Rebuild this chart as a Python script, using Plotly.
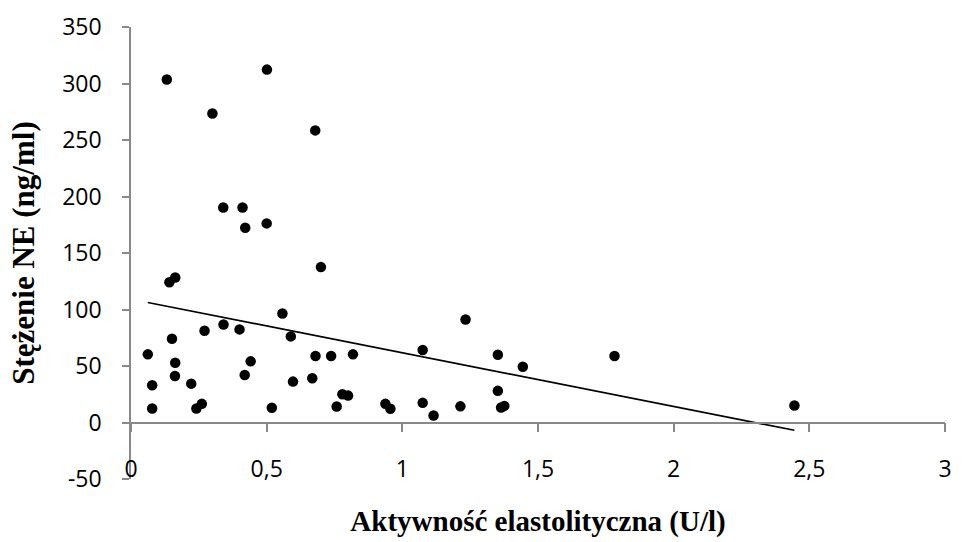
import plotly.graph_objects as go

# Elastolytic activity (U/l) vs NE concentration (ng/ml)
aktywnosc = [0.132, 0.300, 0.501, 0.679, 0.340, 0.411, 0.421, 0.500, 0.700,
             0.062, 0.078, 0.078, 0.1415, 0.163, 0.151, 0.163, 0.162, 0.222,
             0.241, 0.261, 0.271, 0.341, 0.400, 0.419, 0.441, 0.519, 0.558,
             0.589, 0.597, 0.668, 0.680, 0.7375, 0.758, 0.779, 0.800, 0.818,
             0.9375, 0.956, 1.075, 1.075, 1.115, 1.214, 1.233, 1.352, 1.444,
             1.782, 1.352, 1.364, 1.376, 2.445]
stezenie = [303.5, 273.5, 312.3, 258.5, 190.3, 190.3, 172.4, 176.2, 137.5,
            60.3, 33.0, 12.4, 124.1, 128.3, 74.1, 52.9, 41.2, 34.4,
            12.4, 16.5, 81.2, 86.8, 82.4, 42.1, 54.1, 13.0, 96.5,
            76.2, 36.2, 39.2, 58.8, 58.8, 14.1, 25.0, 23.8, 60.3,
            16.5, 12.1, 64.1, 17.4, 6.2, 14.3, 91.2, 60.0, 49.4,
            58.8, 28.0, 13.2, 14.7, 15.0]

# Linear trendline coefficients (y = a*x + b)
trend_slope = -47.5
trend_intercept = 109.2

x_ticks = [0, 0.5, 1, 1.5, 2, 2.5, 3]
x_tick_labels = ["0", "0,5", "1", "1,5", "2", "2,5", "3"]
y_ticks = [-50, 0, 50, 100, 150, 200, 250, 300, 350]
y_tick_labels = ["-50", "0", "50", "100", "150", "200", "250", "300", "350"]
x_range = [0, 3]
y_range = [-50, 350]

AXIS_GREY = "#898989"
TICK_FONT = dict(family="Open Sans", size=23, color="#000000")
X_TITLE_FONT = dict(family="Liberation Serif", size=29, color="#000000")
Y_TITLE_FONT = dict(family="Liberation Serif", size=31, color="#000000")

trend_x = [min(aktywnosc), max(aktywnosc)]
trend_y = [trend_slope * v + trend_intercept for v in trend_x]

fig = go.Figure()
fig.add_trace(go.Scatter(
    x=aktywnosc, y=stezenie, mode="markers",
    marker=dict(color="#000000", size=10.5, line=dict(width=0)),
    showlegend=False, hoverinfo="x+y",
))
fig.add_trace(go.Scatter(
    x=trend_x, y=trend_y, mode="lines", xaxis="x2",
    line=dict(color="#000000", width=1.6),
    showlegend=False, hoverinfo="skip",
))

# x axis crossing the value axis at y = 0
zero_pos = (0 - y_range[0]) / (y_range[1] - y_range[0])

fig.update_layout(
    width=962, height=542,
    margin=dict(l=131, r=10, t=25, b=63),
    paper_bgcolor="#ffffff", plot_bgcolor="#ffffff",
    xaxis=dict(
        range=x_range, tickmode="array", tickvals=x_ticks, ticktext=x_tick_labels,
        showline=False, showgrid=False, zeroline=False, ticks="",
        tickfont=TICK_FONT, ticklabelstandoff=-26,
        title=dict(text="<b>Aktywność elastolityczna (U/l)</b>", font=X_TITLE_FONT, standoff=27),
    ),
    xaxis2=dict(
        range=x_range, overlaying="x", anchor="free", position=zero_pos,
        side="bottom", tickmode="array", tickvals=x_ticks,
        showline=True, linecolor=AXIS_GREY, linewidth=1.5,
        ticks="outside", ticklen=9, tickwidth=1.5, tickcolor=AXIS_GREY,
        showticklabels=False, showgrid=False, zeroline=False,
    ),
    yaxis=dict(
        range=y_range, tickmode="array", tickvals=y_ticks, ticktext=y_tick_labels,
        showline=True, linecolor=AXIS_GREY, linewidth=1.5,
        ticks="outside", ticklen=7, tickwidth=1.5, tickcolor=AXIS_GREY,
        showgrid=False, zeroline=False,
        tickfont=TICK_FONT, ticklabelstandoff=16,
        title=dict(text="<b>Stężenie NE (ng/ml)</b>", font=Y_TITLE_FONT, standoff=18),
    ),
)

fig.write_html("out.html")
